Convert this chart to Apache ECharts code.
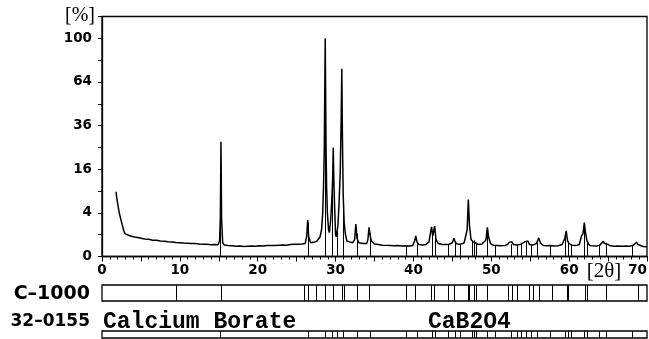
<!DOCTYPE html>
<html>
<head>
<meta charset="utf-8">
<script src="https://cdn.jsdelivr.net/npm/echarts@6/dist/echarts.min.js"></script>
<style>
  html, body { margin: 0; padding: 0; background: #fff; }
  #chart { width: 649px; height: 339px; }
</style>
</head>
<body>
<div id="chart"></div>
<script>
// Measured XRD scan of sample C-1000: [2θ (deg), intensity (%)]
const scan = [
  [1.8, 8.8], [1.9, 7.2], [2.0, 6.0], [2.1, 5.0], [2.2, 4.1], [2.4, 3.0], [2.6, 2.1], [2.8, 1.4],
  [2.95, 1.1], [3.1, 1.0], [3.4, 0.95], [3.8, 0.86], [4.2, 0.8], [4.6, 0.75], [5.0, 0.7], [5.5, 0.64],
  [6.0, 0.62], [6.5, 0.56], [7.0, 0.55], [7.5, 0.5], [8.0, 0.49], [8.5, 0.45], [9.0, 0.44], [9.5, 0.41],
  [10.0, 0.4], [10.5, 0.38], [11.0, 0.37], [11.5, 0.35], [12.0, 0.36], [12.5, 0.33], [13.0, 0.32],
  [13.5, 0.31], [14.0, 0.29], [14.5, 0.3], [14.9, 0.29], [15.1, 0.5], [15.2, 3.0], [15.28, 27.6],
  [15.36, 3.0], [15.5, 0.4], [15.7, 0.28], [16.2, 0.25], [16.7, 0.24], [17.2, 0.22], [17.7, 0.23],
  [18.2, 0.21], [18.7, 0.22], [19.2, 0.23], [19.7, 0.22], [20.2, 0.24], [20.7, 0.23], [21.2, 0.25],
  [21.7, 0.26], [22.2, 0.25], [22.7, 0.27], [23.2, 0.28], [23.7, 0.27], [24.2, 0.3], [24.7, 0.32],
  [25.2, 0.31], [25.7, 0.33], [26.1, 0.36], [26.3, 0.9], [26.42, 2.8], [26.55, 0.8], [26.8, 0.4],
  [27.2, 0.42], [27.6, 0.5], [28.0, 0.8], [28.2, 1.5], [28.35, 4.0], [28.45, 10], [28.55, 24],
  [28.67, 100], [28.78, 24], [28.85, 10], [28.95, 4.0], [29.1, 1.5], [29.2, 1.2], [29.35, 2.5],
  [29.5, 6.0], [29.62, 12], [29.7, 25], [29.78, 12], [29.88, 5.0], [30.0, 1.0], [30.1, 0.8],
  [30.3, 2.0], [30.45, 6.0], [30.6, 15], [30.72, 40], [30.8, 74], [30.88, 30], [30.98, 8.0],
  [31.1, 2.5], [31.25, 1.1], [31.45, 0.5], [31.8, 0.45], [32.2, 0.4], [32.45, 0.6], [32.6, 2.2],
  [32.75, 0.7], [33.0, 0.4], [33.5, 0.35], [34.0, 0.35], [34.15, 0.6], [34.3, 1.8], [34.45, 0.9],
  [34.6, 0.5], [35.0, 0.33], [35.5, 0.3], [36.0, 0.27], [36.5, 0.26], [37.0, 0.25], [37.5, 0.24],
  [38.0, 0.25], [38.5, 0.23], [39.0, 0.24], [39.5, 0.23], [39.9, 0.25], [40.15, 0.5], [40.3, 0.9],
  [40.45, 0.45], [40.7, 0.3], [41.2, 0.28], [41.6, 0.3], [42.0, 0.45], [42.2, 1.2], [42.33, 1.85],
  [42.48, 0.9], [42.6, 1.3], [42.72, 1.95], [42.9, 0.6], [43.2, 0.35], [43.7, 0.3], [44.2, 0.3],
  [44.6, 0.32], [45.0, 0.4], [45.2, 0.7], [45.35, 0.45], [45.6, 0.33], [46.0, 0.32], [46.5, 0.38],
  [46.9, 1.5], [47.05, 6.8], [47.2, 2.0], [47.4, 0.6], [47.65, 0.45], [47.8, 0.55], [47.95, 0.4],
  [48.3, 0.3], [48.8, 0.33], [49.3, 0.55], [49.5, 1.8], [49.65, 0.8], [49.9, 0.35], [50.3, 0.26],
  [50.8, 0.25], [51.3, 0.24], [51.8, 0.26], [52.1, 0.3], [52.3, 0.42], [52.5, 0.32], [52.65, 0.45],
  [52.85, 0.3], [53.3, 0.28], [53.8, 0.32], [54.3, 0.45], [54.55, 0.56], [54.7, 0.5], [54.9, 0.3],
  [55.3, 0.27], [55.8, 0.35], [56.1, 0.73], [56.3, 0.4], [56.7, 0.25], [57.1, 0.24], [57.6, 0.25],
  [58.1, 0.23], [58.6, 0.24], [59.1, 0.3], [59.45, 0.7], [59.62, 1.38], [59.8, 0.5], [60.0, 0.35],
  [60.4, 0.26], [60.9, 0.25], [61.3, 0.3], [61.6, 0.9], [61.78, 1.1], [61.95, 2.4], [62.1, 1.2],
  [62.3, 0.5], [62.6, 0.26], [63.0, 0.24], [63.5, 0.23], [63.9, 0.26], [64.4, 0.49], [64.55, 0.35],
  [64.8, 0.42], [65.0, 0.3], [65.3, 0.24], [65.8, 0.22], [66.3, 0.23], [66.8, 0.22], [67.3, 0.23],
  [67.8, 0.22], [68.3, 0.28], [68.65, 0.43], [68.85, 0.3], [69.1, 0.22], [69.5, 0.21], [70.0, 0.2]
];

// Peak positions found in the C-1000 scan (2θ)
const samplePeaks = [
  9.5, 15.3, 26.0, 26.4, 27.5, 28.7, 29.7, 30.8, 31.1, 32.7, 34.3, 39.0, 40.2, 42.2, 42.7, 44.4,
  45.2, 47.0, 47.2, 47.8, 48.1, 49.5, 52.2, 52.7, 53.3, 54.8, 55.4, 56.1, 57.8, 59.7, 59.85,
  62.1, 62.3, 64.7, 68.8
];

// Reference card 32-0155 Calcium Borate (CaB2O4) line positions (2θ)
const cardLines = [
  15.2, 26.4, 28.7, 29.6, 30.2, 31.0, 32.7, 34.4, 39.0, 40.5, 42.4, 42.8, 44.5, 45.4, 46.0, 47.5,
  47.8, 48.1, 49.4, 50.5, 52.5, 53.3, 53.8, 54.4, 55.1, 55.9, 57.6, 59.5, 59.8, 60.2, 61.9, 62.3,
  63.8, 64.7, 68.1
];

// Intensity axis labels (square-root scale)
const yTickLabels = [0, 4, 16, 36, 64, 100];
const xTickLabels = [0, 10, 20, 30, 40, 50, 60, 70];

const sampleName = 'C\u20131000';
const cardNumber = '32\u20130155';
const cardName = 'Calcium Borate';
const cardFormula = 'CaB2O4';

// Intensities are plotted on a square-root scale
const scanSqrt = scan.map(([t, v]) => [t, Math.sqrt(v)]);

// Height of the scan (in sqrt units) at a given 2θ, used to top the card sticks
function scanAt(t) {
  for (let i = 1; i < scanSqrt.length; i++) {
    const a = scanSqrt[i - 1], b = scanSqrt[i];
    if (t <= b[0]) {
      const f = (t - a[0]) / (b[0] - a[0]);
      return a[1] + f * (b[1] - a[1]);
    }
  }
  return scanSqrt[scanSqrt.length - 1][1];
}

const stickData = cardLines.map(t => [t, scanAt(t)]);

function stickRenderer(params, api) {
  const p0 = api.coord([api.value(0), 0]);
  const p1 = api.coord([api.value(0), api.value(1)]);
  return {
    type: 'line',
    shape: { x1: Math.round(p0[0]) + 0.5, y1: p0[1], x2: Math.round(p0[0]) + 0.5, y2: p1[1] },
    style: { stroke: '#000', lineWidth: 1 }
  };
}

function boxLineRenderer(params, api) {
  const p0 = api.coord([api.value(0), 0]);
  const p1 = api.coord([api.value(0), 1]);
  return {
    type: 'line',
    shape: { x1: Math.round(p0[0]) + 0.5, y1: p0[1], x2: Math.round(p0[0]) + 0.5, y2: p1[1] },
    style: { stroke: '#000', lineWidth: 1 }
  };
}

const FONT = 'DejaVu Sans';
const chart = echarts.init(document.getElementById('chart'), null, { renderer: 'canvas' });

const hiddenX = (gridIndex) => ({
  type: 'value', gridIndex, min: 0, max: 70,
  axisLine: { show: false }, axisTick: { show: false }, axisLabel: { show: false }, splitLine: { show: false }
});
const hiddenY = (gridIndex) => ({
  type: 'value', gridIndex, min: 0, max: 1,
  axisLine: { show: false }, axisTick: { show: false }, axisLabel: { show: false }, splitLine: { show: false }
});

const gridBase = { left: 102, right: 2, show: true, borderColor: '#000', borderWidth: 1.3, containLabel: false, outerBoundsMode: 'none' };

chart.setOption({
  animation: false,
  backgroundColor: '#fff',
  grid: [
    Object.assign({ top: 16.5, height: 240 }, gridBase),
    Object.assign({ top: 285, height: 16 }, gridBase),
    Object.assign({ top: 331, height: 7 }, gridBase)
  ],
  xAxis: [
    {
      type: 'value', gridIndex: 0, min: 0, max: 70, interval: 5,
      axisLine: { lineStyle: { color: '#000', width: 1.3 } },
      axisTick: { length: 5, lineStyle: { color: '#000', width: 1 } },
      minorTick: { show: true, splitNumber: 5, length: 3, lineStyle: { color: '#000', width: 1 } },
      splitLine: { show: false },
      axisLabel: {
        margin: 7, color: '#000', fontFamily: FONT, fontWeight: 'bold', fontSize: 13.5,
        alignMaxLabel: 'right',
        formatter: v => (xTickLabels.indexOf(v) >= 0 ? String(v) : '')
      }
    },
    hiddenX(1),
    hiddenX(2)
  ],
  yAxis: [
    {
      type: 'value', gridIndex: 0, min: 0, max: 11, interval: 1,
      axisLine: { show: true, lineStyle: { color: '#000', width: 1.3 } },
      axisTick: { show: true, length: 4, lineStyle: { color: '#000', width: 1 } },
      splitLine: { show: false },
      axisLabel: {
        margin: 10, color: '#000', fontFamily: FONT, fontWeight: 'bold', fontSize: 13.5,
        formatter: v => (yTickLabels.indexOf(v * v) >= 0 ? String(v * v) : '')
      }
    },
    hiddenY(1),
    hiddenY(2)
  ],
  series: [
    {
      type: 'line', xAxisIndex: 0, yAxisIndex: 0, data: scanSqrt,
      showSymbol: false, symbol: 'none', smooth: false,
      lineStyle: { color: '#000', width: 1.5 }, z: 3
    },
    {
      type: 'custom', xAxisIndex: 0, yAxisIndex: 0, data: stickData,
      renderItem: stickRenderer, z: 2
    },
    {
      type: 'custom', xAxisIndex: 1, yAxisIndex: 1, data: samplePeaks.map(t => [t]),
      renderItem: boxLineRenderer
    },
    {
      type: 'custom', xAxisIndex: 2, yAxisIndex: 2, data: cardLines.map(t => [t]),
      renderItem: boxLineRenderer
    }
  ],
  graphic: [
    { type: 'text', x: 80, y: 16, style: { text: '[%]', fill: '#000', font: '20px "Liberation Serif"', align: 'center', verticalAlign: 'middle' } },
    { type: 'text', x: 604, y: 271, style: { text: '[2θ]', fill: '#000', font: '21px "Liberation Serif"', align: 'center', verticalAlign: 'middle' } },
    { type: 'text', x: 90, y: 294, style: { text: sampleName, fill: '#000', font: 'bold 19px "DejaVu Sans"', align: 'right', verticalAlign: 'middle' } },
    { type: 'text', x: 90, y: 322, style: { text: cardNumber, fill: '#000', font: 'bold 17px "DejaVu Sans"', align: 'right', verticalAlign: 'middle' } },
    { type: 'text', x: 103, y: 322, style: { text: cardName, fill: '#000', font: 'bold 23px "Liberation Mono"', align: 'left', verticalAlign: 'middle' } },
    { type: 'text', x: 428, y: 322, style: { text: cardFormula, fill: '#000', font: 'bold 23px "Liberation Mono"', align: 'left', verticalAlign: 'middle' } }
  ]
});
</script>
</body>
</html>
